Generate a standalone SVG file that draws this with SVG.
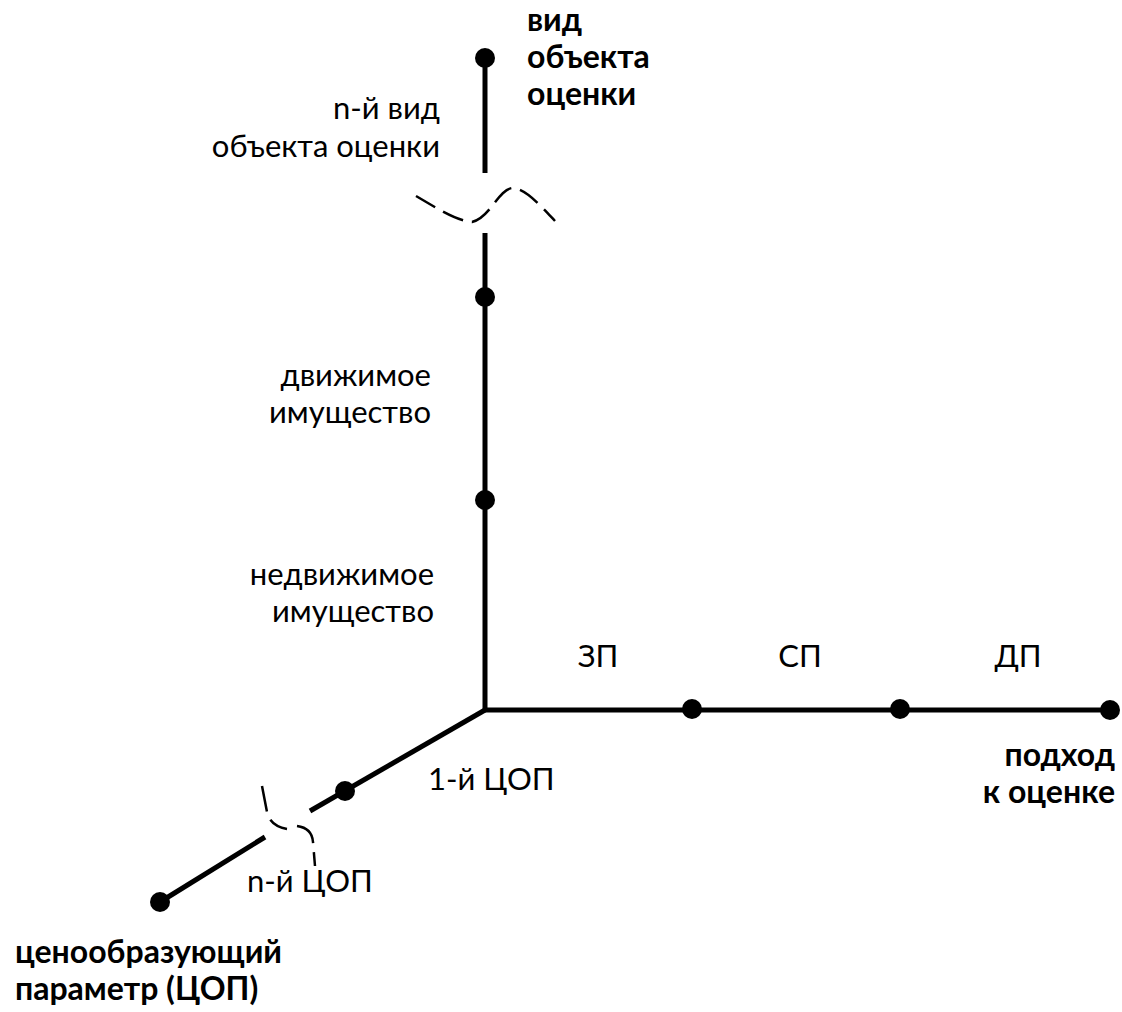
<svg xmlns="http://www.w3.org/2000/svg" width="1122" height="1012" viewBox="0 0 1122 1012">
<style>
text { font-family: Lato, "Open Sans", sans-serif; font-size: 31px; fill: #000; }
.b { font-weight: bold; font-size: 32px; }
.e { text-anchor: end; }
.m { text-anchor: middle; }
.axis { stroke: #000; stroke-width: 5; fill: none; }
.brk { stroke: #000; stroke-width: 2.5; fill: none; stroke-dasharray: 22 9; }
.dot { fill: #000; }
</style>
<rect width="1122" height="1012" fill="#fff"/>
<g id="connectors">
  <line class="axis" x1="485" y1="58" x2="485" y2="173"/>
  <line class="axis" x1="485" y1="233" x2="485" y2="712"/>
  <line class="axis" x1="483" y1="710" x2="1110" y2="710"/>
  <line class="axis" x1="485" y1="710" x2="310" y2="811"/>
  <line class="axis" x1="265" y1="837" x2="160" y2="902"/>
  <path class="brk" d="M416,196 C440,210 455,220 472,222 C490,218 498,190 512,188 C525,188 540,205 555,221"/>
  <path d="M262,786 L267,812 Q270,826 287,829 M297,826 Q312,828 313,842 L315,866" stroke="#000" stroke-width="2.5" fill="none" stroke-dasharray="26 9"/>
</g>
<g id="axis-vertical">
  <circle class="dot" cx="485" cy="58" r="10"/>
  <text class="b" x="527" y="31">вид</text>
  <text class="b" x="527" y="68">объекта</text>
  <text class="b" x="527" y="105">оценки</text>
</g>
<g id="nth-object">
  <text class="e" x="440" y="119">n-й вид</text>
  <text class="e" x="440" y="157">объекта оценки</text>
</g>
<g id="movable">
  <circle class="dot" cx="485" cy="297" r="10"/>
  <text class="e" x="431" y="386">движимое</text>
  <text class="e" x="431" y="423">имущество</text>
</g>
<g id="immovable">
  <circle class="dot" cx="485" cy="500" r="10"/>
  <text class="e" x="434" y="585">недвижимое</text>
  <text class="e" x="434" y="622">имущество</text>
</g>
<g id="zp">
  <text class="m" x="598" y="667">ЗП</text>
  <circle class="dot" cx="692" cy="709" r="10"/>
</g>
<g id="sp">
  <text class="m" x="800" y="667">СП</text>
  <circle class="dot" cx="900" cy="709" r="10"/>
</g>
<g id="dp">
  <text class="m" x="1018" y="667">ДП</text>
  <circle class="dot" cx="1110" cy="710" r="10"/>
  <text class="b e" x="1115" y="766">подход</text>
  <text class="b e" x="1115" y="803">к оценке</text>
</g>
<g id="cop1">
  <circle class="dot" cx="345" cy="791" r="10"/>
  <text x="428" y="790">1-й ЦОП</text>
</g>
<g id="copn">
  <circle class="dot" cx="160" cy="902" r="10"/>
  <text x="247" y="892">n-й ЦОП</text>
  <text class="b" x="15" y="963">ценообразующий</text>
  <text class="b" x="15" y="1000">параметр (ЦОП)</text>
</g>
</svg>
